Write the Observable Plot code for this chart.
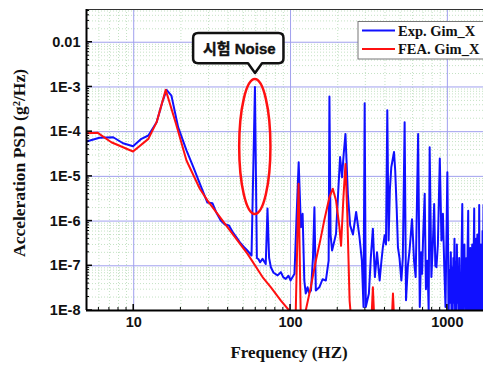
<!DOCTYPE html>
<html>
<head>
<meta charset="utf-8">
<script src="https://cdn.jsdelivr.net/npm/d3@7"></script>
<script src="https://cdn.jsdelivr.net/npm/@observablehq/plot@0.6"></script>
<style>
  body { margin: 0; background: #fff; }
  #chart svg { display: block; }
</style>
</head>
<body>
<div id="chart"></div>
<script>
// ---- data ----
const expFreq = [5,6.05,7.4,8.55,9.9,11.2,12.4,14.0,15.2,16.2,17.4,19.2,21.7,24,26.7,29.5,31.8,33.5,35.9,38,40.5,43,45.9,48,50.6,53,56.4,59.3,61,62.5,64,66.3,69.5,71.3,73,74.9,78,82.7,86.8,90,93.3,97,100,106,109,112.7,116.5,119.4,122.4,125,128.4,131,135,139,142,145,152.6,160,168,175,177,180,184,190,195,201,207,213,218,224,232,240,250,262,275,285,292,297,302,316,325,335,345,356,370,380,388,398,406,414,422,430,439,457,465,475,484,495,509,520,534,545,560,574,595,604,613,628,651,667,680,690,700,717,730,746,760,771,791,808,824,838,852,870,895,917,937,955,973,
  1000,1020,1030,1040,1052,1062,1073,1082,1092,1100,1110,1120,1130,1140,1150,1160,1170,1180,1190,1200,1212,1222,1232,1245,1255,1265,1275,1285,1295,1305,1315,1325,1335,1345,1358,1368,1380,1390,1400,1410,1420,1430,1440,1450,1460,1470,1483,1493,1503,1513,1523,1533,1543,1553,1563,1575,1585,1596,1606,1616,1626,1636,1646,1656,1666,1676,1686,1700];
const expPsd = [6.0e-5,7.3e-5,7.5e-5,5.5e-5,4.7e-5,6.9e-5,8.2e-5,1.63e-4,4.5e-4,8.6e-4,6.4e-4,1.26e-4,3.8e-5,1.6e-5,6.2e-6,2.6e-6,2.5e-6,1.6e-6,1.03e-6,8.5e-7,8e-7,5.5e-7,4e-7,3.2e-7,2.6e-7,2.2e-7,1.7e-7,1.0e-3,1.5e-7,1.4e-7,1.2e-7,1.43e-7,1.1e-7,1.9e-6,1.5e-7,9.3e-8,7e-8,6.1e-8,7.2e-8,5.5e-8,5.1e-8,6e-8,4.7e-8,6.6e-8,1e-6,2.07e-5,7.3e-7,1.45e-6,4.7e-8,2.4e-8,3.3e-8,2.5e-8,2.8e-8,1.5e-7,2.04e-6,2.8e-8,3.3e-8,5e-8,4.7e-8,1.3e-7,6.1e-4,5e-7,2.2e-7,3.5e-7,5.2e-7,4e-6,2.7e-5,9.6e-6,3e-5,8.9e-5,4e-6,8e-7,5e-7,1.6e-6,4.5e-7,1.3e-7,1.2e-8,4.3e-4,1.2e-8,2.4e-8,1.5e-7,6.7e-7,5.6e-8,2e-7,4.7e-8,1.3e-7,2.6e-7,4.8e-7,3e-7,3e-4,3.7e-7,5e-6,1.6e-5,3.5e-5,1.35e-5,2e-6,2.6e-7,1.5e-7,4.7e-8,1.5e-7,1.63e-4,1.7e-8,1e-7,2.2e-7,1.1e-6,4e-7,1.3e-7,5.6e-8,8.9e-5,1.2e-8,2e-7,6.6e-8,4e-7,4.1e-6,3e-8,1.3e-7,1e-8,4.5e-5,5.6e-8,3e-7,2.4e-6,1e-7,9.3e-8,3e-7,2.5e-5,3.7e-7,1.45e-6,1e-7,1.2e-8,
  1.24e-5,1e-8,8e-8,1.5e-8,2e-7,1e-8,9e-8,1e-8,1.5e-7,1.5e-8,4e-7,1e-8,1.2e-7,1e-8,3e-7,1.5e-8,8e-8,1e-8,1.5e-7,1e-8,6e-8,1e-8,2e-7,2.4e-6,1e-8,1.2e-7,1e-8,3e-7,1.5e-8,8e-8,1e-8,1.5e-7,1e-8,2e-7,1.7e-6,1e-8,1e-7,1e-8,2.5e-7,1e-8,9e-8,1e-8,3e-7,1e-8,8e-8,1.5e-7,1.9e-6,1e-8,1.2e-7,1e-8,4e-7,1e-8,1e-7,5e-7,1e-8,1.5e-7,1e-8,2.3e-6,1e-8,1.2e-7,1e-8,3e-7,1e-8,1e-7,1e-8,6e-7,1e-8,2.3e-6];

const feaFreq = [5,5.9,7.2,9.9,12.4,14.0,16.0,18.6,21.7,26.4,29.5,39.6,53.2,66.3,75,86.8,98,101,105,108,112.5,116,118,125,135,145,155,164,177,186,195,205,210,217,224,230,238,245,320,330,335,340,345,440,445,450,455,460,1700];
const feaPsd = [9.2e-5,9.4e-5,5.8e-5,3.6e-5,6.9e-5,1.63e-4,8.6e-4,1.5e-4,2.26e-5,5.3e-6,2.9e-6,7.3e-7,1.85e-7,5.6e-8,3.3e-8,1.67e-8,1e-8,5e-9,5e-9,1e-8,6.8e-6,1e-8,5e-9,1e-8,3.5e-8,1.3e-7,3.8e-7,1.03e-6,3.4e-6,5.3e-6,2.9e-6,7.3e-7,2.8e-7,3e-6,1.9e-5,1.5e-6,1.67e-8,5e-9,5e-9,1e-8,3.3e-8,1e-8,5e-9,5e-9,1e-8,2.4e-8,1e-8,5e-9,5e-9];

const seriesNames = ["Exp. Gim_X", "FEA. Gim_X"];
const seriesColors = ["#1010ff", "#ff1010"];

const xTicks = [10, 100, 1000];
const xTickLabels = ["10", "100", "1000"];
const yTicks = [1e-2, 1e-3, 1e-4, 1e-5, 1e-6, 1e-7, 1e-8];
const yTickLabels = ["0.01", "1E-3", "1E-4", "1E-5", "1E-6", "1E-7", "1E-8"];

const xLabel = "Frequency (HZ)";
const yLabel = "Acceleration PSD (g\u00B2/Hz)";

// annotation (data coordinates)
const noiseLabel = "시험 Noise";
const noiseEllipseFreq = [47.4, 75];
const noiseEllipsePsd = [1.4e-6, 1.46e-3];
const noiseBoxFreq = [24.1, 90.8];
const noiseBoxPsd = [0.0156, 3.3e-3];
const noisePointer = [59.8, 2.0e-3];

const xDomain = [5, 1700];
const yDomain = [1e-8, 0.054];

// ---- derived ----
const exp = expFreq.map((f, i) => ({f, v: expPsd[i]}));
const fea = feaFreq.map((f, i) => ({f, v: feaPsd[i]}));

const xMinor = [], yMinor = [];
for (let d = 0; d <= 3; d++) for (let k = 2; k <= 9; k++) {
  const v = k * 10 ** d; if (v > xDomain[0] && v < xDomain[1]) xMinor.push(v);
}
for (let d = -8; d <= -2; d++) for (let k = 2; k <= 9; k++) {
  const v = k * 10 ** d; if (v > yDomain[0] && v < yDomain[1]) yMinor.push(v);
}

const serif = "'Liberation Serif', 'Times New Roman', serif";
const sans = "'Liberation Sans', Arial, sans-serif";

function axisTicks(index, scales, values, dims) {
  const g = d3.create("svg:g").attr("stroke", "#000").attr("stroke-width", 1);
  const L = dims.marginLeft, B = dims.height - dims.marginBottom;
  for (const v of yMinor) g.append("line").attr("x1", L).attr("x2", L + 3).attr("y1", scales.y(v)).attr("y2", scales.y(v));
  for (const v of yTicks) g.append("line").attr("x1", L).attr("x2", L + 6).attr("y1", scales.y(v)).attr("y2", scales.y(v)).attr("stroke-width", 1.5);
  for (const v of xMinor) g.append("line").attr("y1", B).attr("y2", B - 3).attr("x1", scales.x(v)).attr("x2", scales.x(v));
  for (const v of xTicks) g.append("line").attr("y1", B).attr("y2", B - 6).attr("x1", scales.x(v)).attr("x2", scales.x(v)).attr("stroke-width", 1.5);
  return g.node();
}

function annotation(index, scales) {
  const g = d3.create("svg:g");
  const x0 = scales.x(noiseEllipseFreq[0]), x1 = scales.x(noiseEllipseFreq[1]);
  const y0 = scales.y(noiseEllipsePsd[0]), y1 = scales.y(noiseEllipsePsd[1]);
  g.append("ellipse")
    .attr("cx", (x0 + x1) / 2).attr("cy", (y0 + y1) / 2)
    .attr("rx", (x1 - x0) / 2).attr("ry", (y0 - y1) / 2)
    .attr("fill", "none").attr("stroke", "#ff1010").attr("stroke-width", 2.5);
  const l = scales.x(noiseBoxFreq[0]), r = scales.x(noiseBoxFreq[1]);
  const t = scales.y(noiseBoxPsd[0]), b = scales.y(noiseBoxPsd[1]);
  const px = scales.x(noisePointer[0]), py = scales.y(noisePointer[1]);
  const rr = 5, hw = 7;
  const path = `M${l + rr},${t}H${r - rr}Q${r},${t} ${r},${t + rr}V${b - rr}Q${r},${b} ${r - rr},${b}` +
    `H${px + hw}L${px},${py}L${px - hw},${b}H${l + rr}Q${l},${b} ${l},${b - rr}V${t + rr}Q${l},${t} ${l + rr},${t}Z`;
  g.append("path").attr("d", path).attr("fill", "#fff").attr("stroke", "#111").attr("stroke-width", 2.5).attr("stroke-linejoin", "round");
  g.append("text").attr("x", (l + r) / 2 + 1).attr("y", (t + b) / 2)
    .attr("text-anchor", "middle").attr("dominant-baseline", "central")
    .attr("font-family", "'Liberation Sans', 'Noto Sans CJK KR', sans-serif")
    .attr("font-weight", "bold").attr("font-size", 15).attr("fill", "#111")
    .attr("stroke", "#111").attr("stroke-width", 0.4)
    .text(noiseLabel);
  return g.node();
}

const chart = Plot.plot({
  width: 483,
  height: 365,
  marginLeft: 86,
  marginRight: 0,
  marginTop: 9,
  marginBottom: 55,
  style: {background: "#fff", fontFamily: sans, color: "#111"},
  x: {type: "log", domain: xDomain},
  y: {type: "log", domain: yDomain},
  marks: [
    Plot.ruleX(xMinor, {stroke: "#c4e2c4", strokeDasharray: "1,2", strokeWidth: 1}),
    Plot.ruleY(yMinor, {stroke: "#c4e2c4", strokeDasharray: "1,2", strokeWidth: 1}),
    Plot.ruleX(xTicks, {stroke: "#a0a0ee", strokeWidth: 1}),
    Plot.ruleY(yTicks, {stroke: "#a0a0ee", strokeWidth: 1}),
    Plot.line(exp, {x: "f", y: "v", stroke: seriesColors[0], strokeWidth: 2, clip: true}),
    Plot.line(fea, {x: "f", y: "v", stroke: seriesColors[1], strokeWidth: 2, clip: true}),
    Plot.frame({stroke: "#333", strokeWidth: 1}),
    Plot.ruleX([xDomain[0]], {stroke: "#000", strokeWidth: 2}),
    Plot.ruleY([yDomain[0]], {stroke: "#000", strokeWidth: 2}),
    axisTicks,
    Plot.axisX({ticks: xTicks, tickFormat: (d) => xTickLabels[xTicks.indexOf(d)], tickSize: 0, tickPadding: 6, fontSize: 14.5, fontWeight: "bold", label: null}),
    Plot.axisY({ticks: yTicks, tickFormat: (d) => yTickLabels[yTicks.indexOf(d)], tickSize: 0, tickPadding: 6, fontSize: 14.5, fontWeight: "bold", label: null}),
    Plot.text([xLabel], {frameAnchor: "bottom", dy: 42, dx: 4, fontFamily: serif, fontSize: 17, fontWeight: "bold", lineAnchor: "middle"}),
    Plot.text([yLabel], {frameAnchor: "left", textAnchor: "middle", dx: -67, dy: 3, rotate: -90, fontFamily: serif, fontSize: 17.5, fontWeight: "bold", lineAnchor: "middle"}),
    annotation
  ]
});

// legend box
const svg = d3.select(chart);
const lg = svg.append("g").attr("text-anchor", "start");
lg.append("rect").attr("x", 358).attr("y", 21.5).attr("width", 130).attr("height", 37.5)
  .attr("fill", "#fff").attr("stroke", "#777").attr("stroke-width", 1);
seriesNames.forEach((name, i) => {
  const yy = 30.5 + i * 18.5;
  lg.append("line").attr("x1", 362).attr("x2", 395).attr("y1", yy).attr("y2", yy)
    .attr("stroke", seriesColors[i]).attr("stroke-width", 2);
  lg.append("text").attr("x", 398).attr("y", yy).attr("dominant-baseline", "central")
    .attr("text-anchor", "start")
    .attr("font-family", serif).attr("font-weight", "bold").attr("font-size", 14.5).attr("fill", "#111")
    .text(name);
});

document.getElementById("chart").append(chart);
</script>
</body>
</html>
